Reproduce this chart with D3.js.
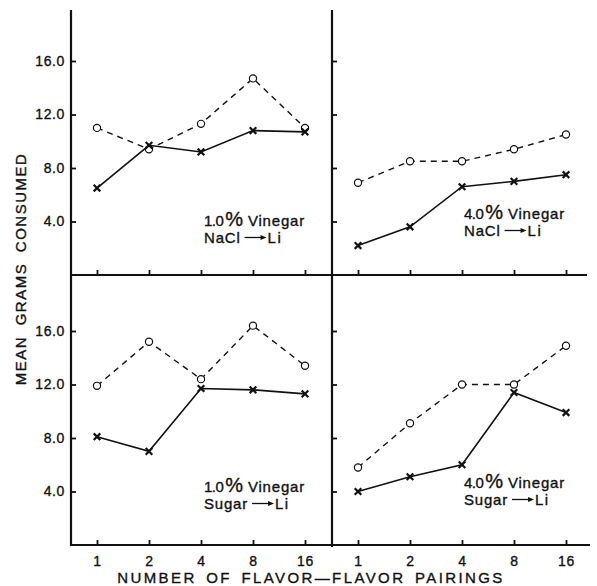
<!DOCTYPE html>
<html>
<head>
<meta charset="utf-8">
<script src="https://cdn.jsdelivr.net/npm/d3@7"></script>
<style>
  body { margin: 0; background: #fff; }
  svg { display: block; font-family: "Liberation Sans", Arial, sans-serif; }
  svg text { stroke: #111; stroke-width: 0.35px; }
  .tick text { font-size: 14px; fill: #111; letter-spacing: 0.6px; }
  .tick line { stroke: #111; stroke-width: 1.8; }
</style>
</head>
<body>
<svg id="chart"></svg>
<script>
// pairings on the x axis
const pairings = [1, 2, 4, 8, 16];
const yTicks = [4, 8, 12, 16];

// mean grams consumed
// open circles, dashed line (control) / crosses, solid line (paired with Li)
const naCl1Control = [11.0, 9.4, 11.3, 14.7, 11.0];
const naCl1Li      = [6.5, 9.7, 9.2, 10.8, 10.7];
const naCl4Control = [6.9, 8.5, 8.5, 9.4, 10.5];
const naCl4Li      = [2.2, 3.6, 6.6, 7.0, 7.5];
const sugar1Control = [11.9, 15.2, 12.4, 16.4, 13.4];
const sugar1Li      = [8.1, 7.0, 11.7, 11.6, 11.3];
const sugar4Control = [5.8, 9.1, 12.0, 12.0, 14.9];
const sugar4Li      = [4.0, 5.1, 6.0, 11.4, 9.9];

const panels = [
  { conc: '1.0', flavor: 'NaCl',  control: naCl1Control,  li: naCl1Li,  col: 0, row: 0 },
  { conc: '4.0', flavor: 'NaCl',  control: naCl4Control,  li: naCl4Li,  col: 1, row: 0 },
  { conc: '1.0', flavor: 'Sugar', control: sugar1Control, li: sugar1Li, col: 0, row: 1 },
  { conc: '4.0', flavor: 'Sugar', control: sugar4Control, li: sugar4Li, col: 1, row: 1 }
];

const width = 597, height = 586;
const colX = [71, 332];     // left axis of each column
const rowBottom = [275, 545]; // x axis of each row
const panelH = 267.5;

const svg = d3.select('#chart')
  .attr('width', width)
  .attr('height', height);

const x = d3.scaleLog().base(2)
  .domain([1, 16])
  .range([26, 234]);

const y = d3.scaleLinear()
  .domain([0, 20])
  .range([panelH, 0]);

const line = d3.line()
  .x((d, i) => x(pairings[i]))
  .y(d => y(d));

// frame lines
const frame = svg.append('g').attr('stroke', '#111').attr('stroke-width', 2.2);
frame.append('line').attr('x1', colX[0]).attr('x2', colX[0]).attr('y1', 10).attr('y2', rowBottom[1] + 1);
frame.append('line').attr('x1', colX[1]).attr('x2', colX[1]).attr('y1', 10).attr('y2', rowBottom[1] + 2);
frame.append('line').attr('x1', colX[0]).attr('x2', 587).attr('y1', rowBottom[0]).attr('y2', rowBottom[0]);
frame.append('line').attr('x1', colX[0] - 1).attr('x2', 590).attr('y1', rowBottom[1]).attr('y2', rowBottom[1]);

panels.forEach(p => {
  const g = svg.append('g')
    .attr('transform', `translate(${colX[p.col]},${rowBottom[p.row] - panelH})`);

  // y axis, ticks point inward
  const yAxis = d3.axisLeft(y)
    .tickValues(yTicks)
    .tickSizeInner(-5)
    .tickSizeOuter(0)
    .tickPadding(6)
    .tickFormat(p.col === 0 ? d3.format('.1f') : '');
  g.append('g').call(yAxis).call(a => a.select('.domain').remove());

  // x axis, ticks point up
  const xAxis = d3.axisBottom(x)
    .tickValues(pairings)
    .tickSizeInner(-5)
    .tickSizeOuter(0)
    .tickPadding(11)
    .tickFormat(p.row === 1 ? d3.format('d') : '');
  g.append('g')
    .attr('transform', `translate(0,${panelH})`)
    .call(xAxis)
    .call(a => a.select('.domain').remove());

  // control series: dashed line, open circles
  g.append('path')
    .datum(p.control)
    .attr('d', line)
    .attr('fill', 'none')
    .attr('stroke', '#111')
    .attr('stroke-width', 1.4)
    .attr('stroke-dasharray', '6,5');

  // Li series: solid line, crosses
  g.append('path')
    .datum(p.li)
    .attr('d', line)
    .attr('fill', 'none')
    .attr('stroke', '#111')
    .attr('stroke-width', 1.6);

  g.selectAll('.circ')
    .data(p.control)
    .join('circle')
    .attr('class', 'circ')
    .attr('cx', (d, i) => x(pairings[i]))
    .attr('cy', d => y(d))
    .attr('r', 3.6)
    .attr('fill', '#fff')
    .attr('stroke', '#111')
    .attr('stroke-width', 1.2);

  const s = 3.3;
  g.selectAll('.cross')
    .data(p.li)
    .join('path')
    .attr('class', 'cross')
    .attr('d', (d, i) => {
      const cx = x(pairings[i]), cy = y(d);
      return `M${cx - s},${cy - s}L${cx + s},${cy + s}M${cx - s},${cy + s}L${cx + s},${cy - s}`;
    })
    .attr('stroke', '#111')
    .attr('stroke-width', 2.2);

  // label
  const lx = p.col === 0 ? 133 : 132;
  const ly = p.row === 0 ? (p.col === 0 ? 218 : 211) : (p.col === 0 ? 214 : 210);
  const gap = 17;
  const lab = g.append('text')
    .attr('x', lx)
    .attr('y', ly)
    .attr('font-size', 15)
    .attr('letter-spacing', 0.8)
    .attr('fill', '#111');
  lab.append('tspan').attr('letter-spacing', -0.5).text(p.conc);
  lab.append('tspan').attr('font-size', 20).attr('dx', 2).text('%');
  lab.append('tspan').attr('dx', 4).text('Vinegar');

  const l2 = g.append('text')
    .attr('x', lx)
    .attr('y', ly + gap)
    .attr('font-size', 15)
    .attr('letter-spacing', 0.8)
    .attr('fill', '#111')
    .text(p.flavor);
  const w = l2.node().getComputedTextLength();
  const ax0 = lx + w + 4, ax1 = ax0 + 22, ay = ly + gap - 5;
  g.append('line')
    .attr('x1', ax0).attr('x2', ax1 - 5)
    .attr('y1', ay).attr('y2', ay)
    .attr('stroke', '#111').attr('stroke-width', 1.3);
  g.append('path')
    .attr('d', `M${ax1 - 6},${ay - 2.5}L${ax1},${ay}L${ax1 - 6},${ay + 2.5}Z`)
    .attr('fill', '#111');
  g.append('text')
    .attr('x', ax1 + 1)
    .attr('y', ly + gap)
    .attr('font-size', 15)
    .attr('letter-spacing', 1.5)
    .attr('fill', '#111')
    .text('Li');
});

// axis titles
svg.append('text')
  .attr('transform', 'translate(26,269) rotate(-90)')
  .attr('text-anchor', 'middle')
  .attr('font-size', 15)
  .attr('letter-spacing', 1.5)
  .attr('word-spacing', 5)
  .attr('fill', '#111')
  .text('MEAN GRAMS CONSUMED');

svg.append('text')
  .attr('x', 311)
  .attr('y', 583)
  .attr('text-anchor', 'middle')
  .attr('font-size', 15)
  .attr('letter-spacing', 2.4)
  .attr('word-spacing', 3)
  .attr('fill', '#111')
  .text('NUMBER OF FLAVOR\u2014FLAVOR PAIRINGS');
</script>
</body>
</html>
